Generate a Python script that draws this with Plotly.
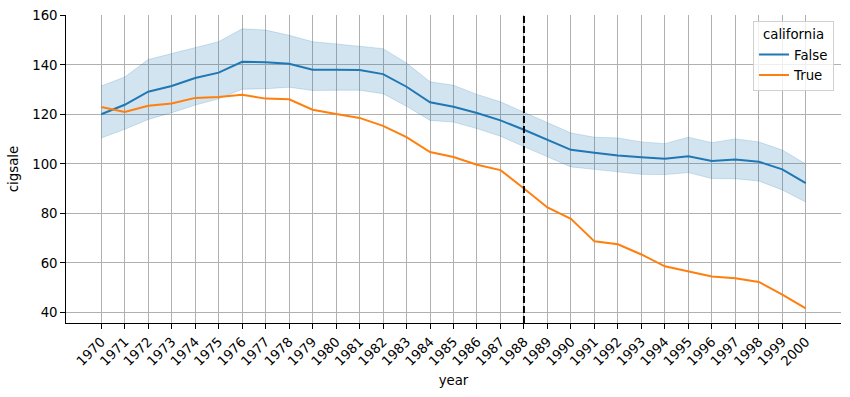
import plotly.graph_objects as go

years = list(range(1970, 2001))
california_sales = [123.0, 121.0, 123.5, 124.4, 126.7, 127.1, 128.0, 126.4, 126.1, 121.9,
                    120.2, 118.6, 115.4, 110.8, 104.8, 102.8, 99.7, 97.5, 90.1, 82.4,
                    77.8, 68.7, 67.5, 63.4, 58.6, 56.4, 54.5, 53.8, 52.3, 47.2, 41.6]
other_mean = [120.1, 123.9, 129.2, 131.5, 134.7, 136.9, 141.3, 141.1, 140.5, 138.1,
              138.1, 138.0, 136.3, 131.2, 124.9, 123.1, 120.6, 117.6, 113.8, 109.8,
              105.7, 104.5, 103.4, 102.7, 102.1, 103.1, 101.2, 101.8, 100.9, 97.8, 92.2]
other_upper = [131.5, 135.1, 142.2, 144.6, 146.9, 149.4, 154.6, 154.1, 152.0, 149.4,
               148.5, 147.6, 146.6, 140.8, 133.2, 131.8, 128.1, 125.1, 121.0, 116.9,
               112.5, 110.8, 110.5, 108.9, 108.2, 110.8, 108.6, 110.1, 108.9, 105.6, 100.0]
other_lower = [110.5, 114.0, 118.0, 120.7, 123.8, 126.3, 130.2, 130.4, 131.0, 129.7,
               129.8, 129.8, 128.4, 123.3, 117.6, 116.9, 114.3, 111.2, 107.0, 102.8,
               98.8, 97.8, 96.8, 95.8, 95.7, 96.5, 94.1, 94.0, 93.1, 89.5, 84.6]
treatment_year = 1988
y_ticks = [40, 60, 80, 100, 120, 140, 160]

BLUE = "#1f77b4"
ORANGE = "#ff7f0e"
FONT = "DejaVu Sans"
FS = 13.3

fig = go.Figure()

# CI band for non-California states
fig.add_trace(go.Scatter(x=years, y=other_upper, mode="lines",
                         line=dict(color="rgba(31,119,180,0.2)", width=1),
                         showlegend=False, hoverinfo="skip"))
fig.add_trace(go.Scatter(x=years, y=other_lower, mode="lines", fill="tonexty",
                         fillcolor="rgba(31,119,180,0.2)",
                         line=dict(color="rgba(31,119,180,0.2)", width=1),
                         showlegend=False, hoverinfo="skip"))

fig.add_trace(go.Scatter(x=years, y=other_mean, mode="lines", name="False",
                         line=dict(color=BLUE, width=2)))
fig.add_trace(go.Scatter(x=years, y=california_sales, mode="lines", name="True",
                         line=dict(color=ORANGE, width=2)))

fig.add_shape(type="line", x0=treatment_year, x1=treatment_year, y0=0, y1=1,
              xref="x", yref="paper",
              line=dict(color="black", width=2, dash="7px,3px"))

fig.update_layout(
    width=850, height=397,
    margin=dict(l=66, r=9, t=15, b=74),
    paper_bgcolor="white", plot_bgcolor="white",
    font=dict(family=FONT, size=FS, color="black"),
    legend=dict(
        title=dict(text="california", side="top center", font=dict(size=FS)),
        traceorder="normal",
        x=0.991, xanchor="right", y=0.98, yanchor="top",
        bgcolor="rgba(255,255,255,0.8)", bordercolor="#d0d0d0", borderwidth=1,
        font=dict(size=FS), itemwidth=30,
    ),
    xaxis=dict(
        range=[1968.5, 2001.5], tickmode="array", tickvals=years,
        ticktext=[str(y) for y in years], tickangle=-45,
        showgrid=True, gridcolor="#b0b0b0", gridwidth=1,
        showline=True, linecolor="black", linewidth=1.1,
        ticks="outside", ticklen=4.7, tickwidth=1.1, tickcolor="black",
        zeroline=False, automargin=False,
        title=dict(text="year", standoff=7, font=dict(size=FS)),
    ),
    yaxis=dict(
        range=[35.7, 160.2], tickmode="array", tickvals=y_ticks,
        showgrid=True, gridcolor="#b0b0b0", gridwidth=1,
        showline=True, linecolor="black", linewidth=1.1,
        ticks="outside", ticklen=4.7, tickwidth=1.1, tickcolor="black",
        zeroline=False, automargin=False,
        title=dict(text="cigsale", standoff=10, font=dict(size=FS)),
    ),
)

fig.write_html("out.html", config={"displayModeBar": False})

# remove the default page margin so the figure sits at the window's top-left corner
with open("out.html", "r", encoding="utf-8") as f:
    html = f.read()
html = html.replace("<body>", '<body style="margin:0;padding:0;">', 1)
with open("out.html", "w", encoding="utf-8") as f:
    f.write(html)
